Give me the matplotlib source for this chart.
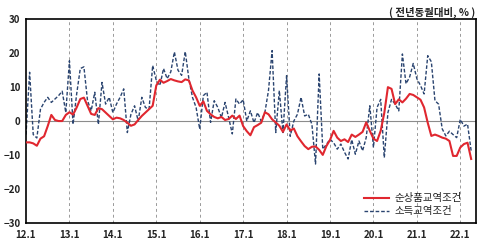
import matplotlib
matplotlib.use('Agg')
import matplotlib.pyplot as plt
import numpy as np

plt.rcParams['font.family'] = ['Noto Sans CJK KR', 'DejaVu Sans']

# monthly, 2012.1 ~ 2022.4, year-on-year change (%)
net_barter = [
    -6.3, -6.3, -6.6, -7.3, -5.2, -4.5, -1.5, 1.8, 0.3, 0.0, 0.0, 1.8,      # 2012
    2.6, 1.9, 4.0, 6.5, 6.9, 4.5, 2.1, 1.8, 3.8, 3.5, 2.5, 1.5,             # 2013
    0.5, 1.0, 0.8, 0.3, -0.5, -1.4, -1.0, 0.3, 1.5, 2.5, 3.5, 4.5,          # 2014
    10.5, 12.2, 11.3, 11.8, 12.4, 12.0, 11.7, 11.5, 12.3, 12.0, 9.0, 7.0,   # 2015
    4.5, 5.8, 3.0, 2.0, 1.2, 0.8, 1.2, 0.3, 0.6, 1.6, 0.6, 1.6,             # 2016
    -1.5, -3.0, -4.2, -1.8, -1.2, -0.5, 2.6, 2.0, 0.5, -0.4, -1.4, -3.2,    # 2017
    -1.0, -2.8, -2.2, -4.5, -6.0, -7.4, -8.3, -7.6, -7.5, -8.5, -10.0, -7.4,  # 2018
    -5.6, -2.9, -4.9, -5.9, -5.4, -6.2, -4.0, -4.7, -4.0, -3.2, -0.4, -2.9,   # 2019
    -5.2, -5.9, -2.9, 2.4, 10.0, 9.5, 5.0, 6.4, 5.5, 6.6, 8.0, 7.7,         # 2020
    7.0, 6.3, 4.0, -0.5, -4.4, -4.0, -4.4, -4.9, -5.2, -5.9, -10.3, -10.3,  # 2021
    -7.8, -6.8, -6.4, -11.2,                                                # 2022
]
income = [
    -4.0, 14.4, -4.0, -5.0, 3.5, 5.5, 7.0, 5.5, 6.5, 7.5, 8.8, 2.5,
    17.8, -1.0, 8.0, 15.5, 16.0, 6.0, 3.0, 8.5, -1.0, 11.4, 5.0, 7.0,
    2.5, 5.0, 7.0, 9.5, -3.4, 2.0, 4.5, 0.0, 7.0, 4.0, 3.5, 16.4,
    12.0, 10.5, 15.5, 12.5, 14.5, 20.4, 15.0, 13.5, 20.5, 12.5, 7.0, 4.0,
    -2.4, 7.5, 8.5, -0.4, 6.0, 4.0, 1.0, 5.5, 1.0, -3.8, 6.5, 5.0,
    6.3, 0.0, 3.0, -0.5, 2.5, 0.0, 2.5, 9.0, 20.8, -3.4, 9.0, -3.4,
    13.4, -4.5, 0.0, 2.0, 7.0, 1.5, 2.0, -1.0, -12.7, 13.9, -8.3, -6.9,
    -5.4, -6.4, -8.3, -6.8, -9.2, -11.2, -5.5, -9.8, -5.9, -8.8, -4.9, 4.5,
    -7.8, 4.0, 6.4, -10.8, 2.5, 6.4, 5.0, 3.0, 19.8, 11.0, 13.0, 17.0,
    12.5, 10.5, 8.0, 19.3, 17.5, 6.0, 5.0, -2.3, -4.4, -3.0, -4.0, -4.9,
    0.5, -1.5, -0.9, -8.8,
]
tick_labels = ['12.1', '13.1', '14.1', '15.1', '16.1', '17.1',
               '18.1', '19.1', '20.1', '21.1', '22.1']

months = np.arange(len(net_barter))

fig = plt.figure(figsize=(5.0, 2.46), dpi=100)
ax = fig.add_axes([0.052, 0.095, 0.899, 0.826])

tick_pos = np.arange(len(tick_labels)) * 12
for p in tick_pos[1:]:
    ax.axvline(p, color='#9a9a9a', linestyle=(0, (3, 3)), linewidth=0.7, zorder=1)
ax.axhline(0, color='#8c8c8c', linewidth=0.8, zorder=1)

ax.plot(months, income, color='#2a4470', linestyle=(0, (2.6, 1.4)),
        linewidth=1.0, label='소득교역조건', zorder=2)
ax.plot(months, net_barter, color='#e0272f', linewidth=1.5,
        label='순상품교역조건', zorder=3)

ax.set_xlim(0, 124.2)
ax.set_ylim(-30, 30)
ax.set_yticks([-30, -20, -10, 0, 10, 20, 30])
ax.set_xticks(tick_pos)
ax.set_xticklabels(tick_labels)
ax.tick_params(length=0, labelsize=7, colors='#222222', pad=4)
ax.tick_params(axis='x', pad=5)
for lab in ax.get_xticklabels() + ax.get_yticklabels():
    lab.set_fontweight('bold')

for s in ax.spines.values():
    s.set_linewidth(1.2)
    s.set_color('black')

handles, labels = ax.get_legend_handles_labels()
leg = ax.legend(handles[::-1], labels[::-1], loc='lower right',
                bbox_to_anchor=(0.985, -0.005), frameon=False,
                fontsize=7.5, handlelength=2.4, handletextpad=0.5,
                labelspacing=0.3, borderpad=0.2)
for t in leg.get_texts():
    t.set_color('#222222')

fig.text(0.95, 0.948, '( 전년동월대비, % )', ha='right', va='center',
         fontsize=7.5, fontweight='bold', color='#222222')

fig.savefig('out.png', dpi=100)
